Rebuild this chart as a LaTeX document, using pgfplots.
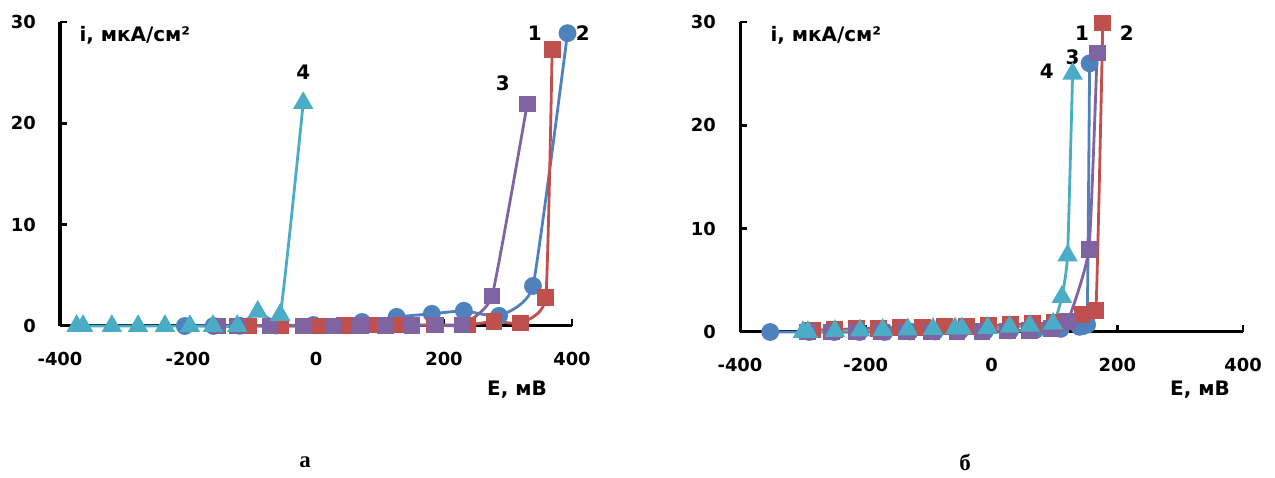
\documentclass[border=0pt]{standalone}
\usepackage{fontspec}
\setmainfont{DejaVu Sans}
\newfontfamily\seriffont{Liberation Serif}
\usepackage{pgfplots}
\pgfplotsset{compat=1.18}

\definecolor{cred}{HTML}{C0504D}
\definecolor{cblue}{HTML}{4F81BD}
\definecolor{cpurple}{HTML}{8064A2}
\definecolor{ccyan}{HTML}{4BACC6}

\tikzset{lab/.style={font=\fontsize{20}{22}\selectfont\bfseries}}
\pgfplotsset{
  panel/.style={
    scale only axis,
    xmin=-400, xmax=400, ymin=0, ymax=30,
    axis x line*=bottom, axis y line*=left,
    axis line style={line width=3bp},
    tick align=inside, major tick length=7bp,
    tick style={line width=2.5bp, black},
    xtick={-400,-200,0,200,400}, xticklabels={-400,-200,0,200,400},
    ytick={0,10,20,30}, yticklabels={0,10,20,30},
    ticklabel style={font=\fontsize{18}{20}\selectfont\bfseries, inner sep=0pt},
    yticklabel style={xshift=-24bp},
    xticklabel style={yshift=-26bp},
    clip=false,
  },
  s1/.style={color=cred, line width=2.8bp, smooth, tension=0.25, mark=square*, mark size=7bp, mark options={solid}},
  s2/.style={color=cblue, line width=2.8bp, smooth, tension=0.25, mark=*, mark size=7.5bp},
  s3/.style={color=cpurple, line width=2.8bp, smooth, tension=0.25, mark=square*, mark size=7bp},
  s4/.style={color=ccyan, line width=2.8bp, smooth, tension=0.25, mark=triangle*, mark size=9bp},
}

\begin{document}
\begin{tikzpicture}
\useasboundingbox (0,0) rectangle (1275bp,478bp);

% panel a
\begin{axis}[panel, at={(60bp,152bp)}, anchor=south west, width=512bp, height=304bp]
\addplot[s2] coordinates {(-205,0) (-160,0) (-119,0.02) (-62,0.05) (-4,0.1) (72,0.4) (126,0.9) (181,1.2) (231,1.5) (286,1.0) (339,3.95) (393,28.9)};
\addplot[s1] coordinates {(-106,0) (-56,0) (1,0) (45,0.05) (90,0.1) (135,0.1) (185,0.1) (237,0.1) (278,0.45) (319,0.3) (359,2.8) (369,27.3)};
\addplot[s3] coordinates {(-153,0) (-123,0) (-72,0) (-20,0) (27,0) (69,0.05) (108,0.05) (150,0.05) (187,0.1) (228,0.1) (275,2.96) (330,21.9)};
\addplot[s4] coordinates {(-374,0) (-364,0) (-319,0) (-278,0) (-236,0) (-197,0) (-161,0) (-123,0) (-91,1.4) (-56,1.1) (-20,22.0)};
\node[lab] at (axis cs:342,28.9) {1};
\node[lab] at (axis cs:417,28.9) {2};
\node[lab] at (axis cs:292,24.0) {3};
\node[lab] at (axis cs:-20,25.0) {4};
\end{axis}

% panel b
\begin{axis}[panel, at={(740bp,146bp)}, anchor=south west, width=503bp, height=310bp]
\addplot[s2] coordinates {(-352,0) (-290,0) (-250,0) (-210,0) (-170,0) (-130,0.05) (-90,0.05) (-50,0.1) (-10,0.1) (30,0.15) (70,0.2) (110,0.3) (140,0.5) (152,0.7) (156,26.0)};
\addplot[s1] coordinates {(-285,0.2) (-250,0.25) (-215,0.3) (-180,0.35) (-145,0.4) (-110,0.45) (-75,0.5) (-40,0.55) (-5,0.6) (30,0.7) (65,0.8) (100,0.9) (144,1.7) (166,2.1) (177,29.9)};
\addplot[s3] coordinates {(-293,0) (-255,0) (-215,0) (-175,0) (-135,0) (-95,0) (-55,0) (-15,0.05) (25,0.1) (60,0.15) (95,0.3) (121,1.0) (155,8.0) (168,27.0)};
\addplot[s4] coordinates {(-300,0) (-292,0) (-249,0.1) (-209,0.15) (-173,0.2) (-133,0.25) (-93,0.3) (-58,0.35) (-47,0.35) (-6,0.4) (29,0.5) (61,0.6) (98,0.8) (112,3.4) (121,7.4) (129,25.0)};
\node[lab] at (axis cs:144,28.9) {1};
\node[lab] at (axis cs:215,28.9) {2};
\node[lab] at (axis cs:129,26.6) {3};
\node[lab] at (axis cs:88,25.2) {4};
\end{axis}

% axis titles
\node[anchor=west, font=\fontsize{20}{22}\selectfont\bfseries] at (76bp,443bp) {i, мкА/см²};
\node[anchor=west, font=\fontsize{20}{22}\selectfont\bfseries] at (767bp,443bp) {i, мкА/см²};
\node[font=\fontsize{20}{22}\selectfont\bfseries] at (517bp,88bp) {E, мВ};
\node[font=\fontsize{20}{22}\selectfont\bfseries] at (1200bp,88bp) {E, мВ};

% panel letters
\node[font=\fontsize{23}{26}\selectfont\seriffont\bfseries] at (305bp,16bp) {а};
\node[font=\fontsize{23}{26}\selectfont\seriffont\bfseries] at (965bp,16bp) {б};
\end{tikzpicture}
\end{document}
